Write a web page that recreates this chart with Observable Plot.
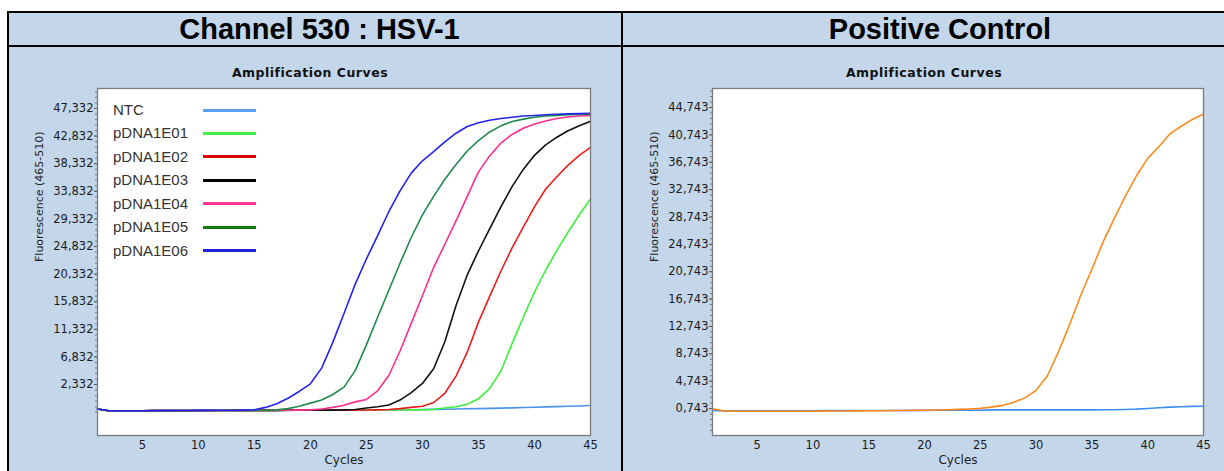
<!DOCTYPE html>
<html><head><meta charset="utf-8">
<script src="https://cdn.jsdelivr.net/npm/d3@7"></script>
<script src="https://cdn.jsdelivr.net/npm/@observablehq/plot@0.6"></script>
<style>
html,body{margin:0;padding:0;background:#fff;}
#page{position:relative;width:1224px;height:471px;overflow:hidden;font-family:"Liberation Sans",Arial,sans-serif;}
.abs{position:absolute;}
#bg{left:7px;top:11px;width:1400px;height:500px;background:#c3d6ea;}
.blk{background:#000;}
.ttl{font-weight:bold;font-size:29px;line-height:33px;text-align:center;color:#000;top:13px;}
.sub{font-family:"DejaVu Sans",sans-serif;font-weight:bold;font-size:12.5px;letter-spacing:0.5px;line-height:14px;text-align:center;color:#111;top:66px;width:400px;}
.lg{font-size:15px;line-height:18px;color:#333;}
.lgl{height:3px;}
</style></head>
<body><div id="page">
<div id="bg" class="abs"></div>
<div class="abs blk" style="left:7px;top:11px;width:1400px;height:2px"></div>
<div class="abs blk" style="left:7px;top:45px;width:1400px;height:2px"></div>
<div class="abs blk" style="left:7px;top:11px;width:2px;height:470px"></div>
<div class="abs blk" style="left:621px;top:11px;width:2px;height:470px"></div>
<div id="t1" class="abs ttl" style="left:8px;width:623px"></div>
<div id="t2" class="abs ttl" style="left:623px;width:634px"></div>
<div id="s1" class="abs sub" style="left:110px"></div>
<div id="s2" class="abs sub" style="left:724px"></div>
<div id="c1" class="abs" style="left:8px;top:47px"></div>
<div id="c2" class="abs" style="left:623px;top:47px"></div>
<div id="legend" class="abs" style="left:0;top:0"></div>
</div>
<script>
const panelTitles = ["Channel 530 : HSV-1", "Positive Control"];
const chartTitle = "Amplification Curves";
const yLabel = "Fluorescence (465-510)";
const xLabel = "Cycles";
const cycles = [1,2,3,4,5,6,7,8,9,10,11,12,13,14,15,16,17,18,19,20,21,22,23,24,25,26,27,28,29,30,31,32,33,34,35,36,37,38,39,40,41,42,43,44,45];
const xTicks = [5,10,15,20,25,30,35,40,45];

// Left panel (HSV-1)
const seriesNamesL = ["NTC","pDNA1E01","pDNA1E02","pDNA1E03","pDNA1E04","pDNA1E05","pDNA1E06"];
const seriesColorsL = ["#4a93ee","#3cf03c","#ee1c1c","#111111","#ff2d8c","#1f8a4c","#2323f0"];
const legendColorsL = ["#5b9ef2","#44ee44","#dd0000","#000000","#ff3399","#107a10","#2020dd"];
const ntcL = [-1650,-1950,-1960,-1950,-1940,-1940,-1930,-1930,-1920,-1920,-1910,-1910,-1900,-1900,-1890,-1890,-1880,-1880,-1870,-1870,-1860,-1850,-1840,-1830,-1820,-1810,-1800,-1790,-1770,-1750,-1720,-1690,-1660,-1630,-1600,-1560,-1520,-1470,-1420,-1370,-1320,-1270,-1220,-1160,-1100];
const e01 = [-1650,-1940,-1950,-1950,-1940,-1930,-1930,-1920,-1920,-1910,-1910,-1900,-1900,-1890,-1890,-1880,-1880,-1870,-1870,-1860,-1860,-1850,-1850,-1840,-1840,-1830,-1830,-1820,-1810,-1800,-1700,-1500,-1300,-900,0,1700,4500,9000,13300,17400,21000,24200,27200,30000,32600];
const e02 = [-1650,-1950,-1950,-1940,-1940,-1930,-1930,-1920,-1920,-1910,-1910,-1900,-1900,-1890,-1890,-1880,-1880,-1870,-1870,-1860,-1860,-1850,-1850,-1840,-1820,-1800,-1750,-1600,-1400,-1200,-600,900,3700,7600,12500,16700,20800,24600,28000,31300,34200,36200,38100,39700,41000];
const e03 = [-1650,-1950,-1950,-1940,-1940,-1930,-1930,-1920,-1920,-1910,-1910,-1900,-1900,-1890,-1890,-1880,-1880,-1870,-1870,-1860,-1860,-1840,-1800,-1750,-1500,-1300,-1000,-200,1000,2500,4900,9300,15200,20200,24100,27700,31300,34600,37400,39700,41400,42650,43700,44500,45250];
const e04 = [-1650,-1950,-1950,-1940,-1940,-1930,-1930,-1920,-1920,-1910,-1910,-1900,-1900,-1890,-1890,-1880,-1870,-1860,-1840,-1800,-1650,-1400,-1050,-500,-100,1300,3800,7800,12300,16800,21400,25200,29000,33000,37000,39600,41700,43100,44100,44800,45300,45700,45950,46100,46200];
const e05 = [-1650,-1950,-1950,-1940,-1940,-1930,-1930,-1920,-1920,-1910,-1910,-1900,-1900,-1890,-1880,-1860,-1800,-1600,-1200,-700,-200,700,1900,4600,8800,13300,17700,22100,26300,30000,33000,35800,38200,40400,42100,43500,44500,45200,45600,45900,46100,46200,46300,46350,46400];
const e06 = [-1650,-1950,-1950,-1940,-1940,-1930,-1920,-1910,-1900,-1890,-1880,-1870,-1860,-1840,-1780,-1400,-800,100,1200,2450,5000,9200,13900,18700,22800,26600,30500,33900,36800,38800,40300,41900,43300,44400,45000,45400,45700,45900,46100,46200,46300,46400,46450,46500,46560];
const valuesL = [ntcL,e01,e02,e03,e04,e05,e06];
const yTicksL = [2332,6832,11332,15832,20332,24832,29332,33832,38332,42832,47332];
const yTickLabelsL = ["2,332","6,832","11,332","15,832","20,332","24,832","29,332","33,832","38,332","42,832","47,332"];
const yDomainL = [-5980, 50590];

// Right panel (Positive Control)
const seriesNamesR = ["NTC","Positive Control"];
const seriesColorsR = ["#3a8ff0","#ff8a1c"];
const ntcR = [450,400,400,400,400,400,410,410,420,420,430,430,440,440,450,450,460,460,470,470,480,480,490,490,500,550,550,550,550,550,550,550,550,550,550,560,570,600,650,750,850,950,1000,1050,1080];
const pc = [700,400,350,350,350,350,350,350,350,350,370,380,390,400,410,420,430,450,470,500,530,570,620,680,760,950,1200,1650,2300,3400,5500,9000,13000,17300,21100,25100,28500,31800,34800,37300,39000,40900,42000,43000,43800];
const valuesR = [ntcR, pc];
const yTicksR = [743,4743,8743,12743,16743,20743,24743,28743,32743,36743,40743,44743];
const yTickLabelsR = ["0,743","4,743","8,743","12,743","16,743","20,743","24,743","28,743","32,743","36,743","40,743","44,743"];
const yDomainR = [-3200, 47520];

document.getElementById("t1").textContent = panelTitles[0];
document.getElementById("t2").textContent = panelTitles[1];
document.getElementById("s1").textContent = chartTitle;
document.getElementById("s2").textContent = chartTitle;

function rows(names, values) {
  const out = [];
  names.forEach((n, k) => values[k].forEach((v, i) => out.push({name: n, cycle: cycles[i], value: v})));
  return out;
}

function chart({names, colors, values, yDomain, yTicks, yTickLabels, width, marginRight}) {
  const labelMap = new Map(yTicks.map((t, i) => [t, yTickLabels[i]]));
  const step = yTicks[1] - yTicks[0];
  const minor = [];
  for (let t = yTicks[0] - step; t <= yDomain[1]; t += step / 5) if (t >= yDomain[0]) minor.push(t);
  return Plot.plot({
    width, height: 424,
    marginLeft: 89, marginRight, marginTop: 41, marginBottom: 36,
    style: {background: "transparent", fontFamily: "DejaVu Sans, sans-serif", fontSize: "11.5px", color: "#222", overflow: "visible"},
    x: {domain: [1, 45]},
    y: {domain: yDomain},
    color: {domain: names, range: colors},
    marks: [
      Plot.frame({fill: "white", stroke: null}),
      Plot.axisY({ticks: minor, tickSize: 2, text: null, stroke: "#777", label: null}),
      Plot.axisY({ticks: yTicks, tickSize: 3, tickPadding: 1, tickFormat: d => labelMap.get(d), stroke: "#555", fill: "#1a1a1a", fontSize: 11.5, label: null}),
      Plot.axisX({ticks: xTicks, tickSize: 0, tickPadding: 5, fill: "#1a1a1a", fontSize: 11.5, label: null}),
      Plot.text([yLabel], {frameAnchor: "left", rotate: -90, dx: -58, fontSize: 11, fill: "#222"}),
      Plot.text([xLabel], {frameAnchor: "bottom", dy: 28, fontSize: 12, fill: "#222"}),
      Plot.line(rows(names, values), {x: "cycle", y: "value", z: "name", stroke: "name", strokeWidth: 1.6}),
      Plot.frame({stroke: "#7c7c7c", strokeWidth: 1.3})
    ]
  });
}

document.getElementById("c1").append(chart({names: seriesNamesL, colors: seriesColorsL, values: valuesL, yDomain: yDomainL, yTicks: yTicksL, yTickLabels: yTickLabelsL, width: 614, marginRight: 32}));
document.getElementById("c2").append(chart({names: seriesNamesR, colors: seriesColorsR, values: valuesR, yDomain: yDomainR, yTicks: yTicksR, yTickLabels: yTickLabelsR, width: 601, marginRight: 21}));

// Legend for left panel (inside plot area)
const lg = document.getElementById("legend");
seriesNamesL.forEach((n, i) => {
  const top = 110 + i * 23.45;
  const t = document.createElement("div");
  t.className = "abs lg"; t.style.left = "113px"; t.style.top = (top - 9) + "px"; t.textContent = n;
  lg.append(t);
  const l = document.createElement("div");
  l.className = "abs lgl"; l.style.left = "203px"; l.style.width = "53px"; l.style.top = (top - 1.5) + "px"; l.style.background = legendColorsL[i];
  lg.append(l);
});
</script>
</body></html>
